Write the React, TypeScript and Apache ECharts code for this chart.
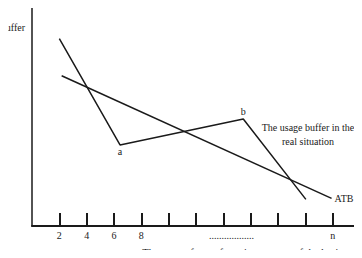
import React, { useEffect, useRef } from "react";
import * as echarts from "echarts";

const tickValues = [2, 4, 6, 8, 10, 12, 14, 16, 18, 20, 22];
const labelValues = [2, 4, 6, 8, 14.6, 22];
const labelTexts = ["2", "4", "6", "8", "..................", "n"];
const usageX = [2, 6.44, 15.46, 20.04];
const usageY = [86, 37.2, 49.1, 12.2];
const usageLabels = ["", "a", "b", ""];
const atbX = [2.17, 21.92];
const atbY = [68.9, 12.7];
const atbLabels = ["", "ATB"];

const FONT = "Liberation Serif";
const INK = "#1a1a1a";

export default function App() {
  const ref = useRef<HTMLDivElement>(null);
  useEffect(() => {
    if (!ref.current) return;
    const chart = echarts.init(ref.current, undefined, { renderer: "svg" });
    const usageData = usageX.map((x, i) => ({
      value: [x, usageY[i]],
      label: {
        show: usageLabels[i] !== "",
        formatter: usageLabels[i],
        position: i === 1 ? "bottom" : "top",
        distance: 2,
      },
    }));
    const atbData = atbX.map((x, i) => ({
      value: [x, atbY[i]],
      label: {
        show: atbLabels[i] !== "",
        formatter: atbLabels[i],
        position: "right",
        distance: 3,
      },
    }));
    chart.setOption({
      animation: false,
      backgroundColor: "#ffffff",
      grid: { left: 32, right: 2, top: 8, bottom: 32, containLabel: false },
      xAxis: {
        type: "value",
        min: 0,
        max: 24,
        interval: 2,
        splitLine: { show: false },
        axisLine: { show: true, lineStyle: { color: INK, width: 2 } },
        axisTick: {
          show: true,
          inside: true,
          length: 13,
          customValues: tickValues,
          lineStyle: { color: INK, width: 2 },
        },
        axisLabel: {
          show: true,
          customValues: labelValues,
          margin: 4,
          fontFamily: FONT,
          fontSize: 10,
          color: INK,
          formatter: (v: number) => {
            const i = labelValues.findIndex((x) => Math.abs(x - v) < 1e-6);
            return i >= 0 ? labelTexts[i] : "";
          },
        },
      },
      yAxis: {
        type: "value",
        min: 0,
        max: 100,
        splitLine: { show: false },
        axisLine: { show: true, lineStyle: { color: INK, width: 1.5 } },
        axisTick: { show: false },
        axisLabel: { show: false },
      },
      series: [
        {
          type: "line",
          data: usageData,
          symbol: "circle",
          symbolSize: 0,
          showSymbol: true,
          itemStyle: { color: INK },
          lineStyle: { color: INK, width: 1.5 },
          label: { fontFamily: FONT, fontSize: 10, color: INK },
          z: 3,
        },
        {
          type: "line",
          data: atbData,
          symbol: "circle",
          symbolSize: 0,
          showSymbol: true,
          itemStyle: { color: INK },
          lineStyle: { color: INK, width: 1.5 },
          label: { fontFamily: FONT, fontSize: 10, color: INK },
          z: 3,
        },
      ],
      graphic: [
        {
          type: "text",
          x: 25,
          y: 27,
          style: {
            text: "buffer",
            fontFamily: FONT,
            fontSize: 10,
            fill: INK,
            align: "right",
            verticalAlign: "middle",
          },
        },
        {
          type: "text",
          x: 308,
          y: 134,
          style: {
            text: "The usage buffer in the\nreal situation",
            fontFamily: FONT,
            fontSize: 10,
            fill: INK,
            align: "center",
            verticalAlign: "middle",
            lineHeight: 14,
          },
        },
        {
          type: "text",
          x: 240,
          y: 252,
          style: {
            text: "The steps of manufacturing process of the lot {i|i}",
            fontFamily: FONT,
            fontSize: 10.5,
            fill: INK,
            align: "center",
            verticalAlign: "middle",
            rich: { i: { fontStyle: "italic", fontFamily: FONT, fontSize: 10.5 } },
          },
        },
      ],
    });
    return () => chart.dispose();
  }, []);
  return <div ref={ref} style={{ width: 362, height: 258, margin: -8 }} />;
}
